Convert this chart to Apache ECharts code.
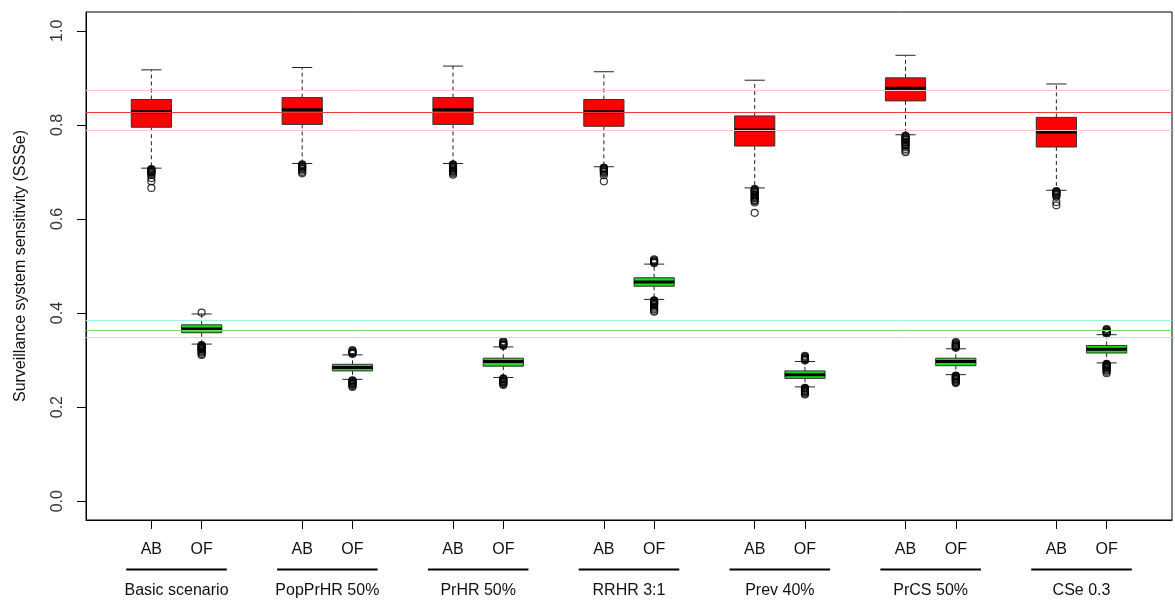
<!DOCTYPE html>
<html>
<head>
<meta charset="utf-8">
<script src="https://cdn.jsdelivr.net/npm/echarts@6/dist/echarts.min.js"></script>
<style>
    html, body { margin: 0; padding: 0; background: #fff; }
    #chart { width: 1175px; height: 601px; }
</style>
</head>
<body>
<div id="chart"></div>
<script>
// scenarios along the x axis, each one has an AB box and an OF box
const groups = ['Basic scenario', 'PopPrHR 50%', 'PrHR 50%', 'RRHR 3:1', 'Prev 40%', 'PrCS 50%', 'CSe 0.3']
const boxLabels = ['AB', 'OF']

// [lower whisker, Q1, median, Q3, upper whisker]
const abStats = [
    [0.708, 0.795, 0.828, 0.854, 0.917],
    [0.718, 0.801, 0.832, 0.858, 0.922],
    [0.718, 0.801, 0.832, 0.858, 0.925],
    [0.711, 0.797, 0.828, 0.854, 0.913],
    [0.666, 0.755, 0.789, 0.819, 0.895],
    [0.779, 0.851, 0.878, 0.900, 0.948],
    [0.661, 0.753, 0.785, 0.816, 0.887]
]
const ofStats = [
    [0.334, 0.358, 0.366, 0.375, 0.398],
    [0.259, 0.277, 0.284, 0.291, 0.311],
    [0.263, 0.287, 0.297, 0.304, 0.328],
    [0.429, 0.457, 0.466, 0.475, 0.504],
    [0.243, 0.261, 0.269, 0.277, 0.297],
    [0.269, 0.288, 0.297, 0.304, 0.324],
    [0.294, 0.315, 0.323, 0.331, 0.354]
]

// outlying points (dense runs show as black blobs)
const abOutliers = [
    [0.706, 0.705, 0.704, 0.702, 0.701, 0.700, 0.698, 0.696, 0.693, 0.687, 0.680, 0.666],
    [0.716, 0.714, 0.713, 0.711, 0.709, 0.707, 0.706, 0.703, 0.700, 0.697],
    [0.716, 0.715, 0.714, 0.712, 0.711, 0.709, 0.707, 0.705, 0.703, 0.702, 0.700, 0.697, 0.694],
    [0.709, 0.708, 0.707, 0.705, 0.703, 0.701, 0.700, 0.697, 0.693, 0.680],
    [0.664, 0.662, 0.661, 0.659, 0.657, 0.656, 0.653, 0.651, 0.650, 0.647, 0.645, 0.644, 0.641, 0.639, 0.638, 0.635, 0.613],
    [0.777, 0.775, 0.774, 0.771, 0.769, 0.768, 0.765, 0.763, 0.762, 0.759, 0.757, 0.756, 0.753, 0.749, 0.745, 0.742],
    [0.659, 0.658, 0.657, 0.655, 0.653, 0.652, 0.650, 0.647, 0.636, 0.629]
]
const ofOutliers = [
    [0.401, 0.332, 0.331, 0.330, 0.328, 0.327, 0.326, 0.324, 0.323, 0.322, 0.320, 0.318, 0.316, 0.313, 0.311],
    [0.313, 0.315, 0.316, 0.317, 0.319, 0.321, 0.257, 0.256, 0.255, 0.253, 0.251, 0.250, 0.249, 0.247, 0.245, 0.243],
    [0.330, 0.332, 0.333, 0.334, 0.336, 0.338, 0.340, 0.261, 0.260, 0.259, 0.257, 0.255, 0.254, 0.253, 0.251, 0.249, 0.247],
    [0.506, 0.508, 0.509, 0.510, 0.512, 0.514, 0.427, 0.426, 0.425, 0.423, 0.421, 0.420, 0.419, 0.417, 0.414, 0.411, 0.408, 0.405, 0.403],
    [0.299, 0.301, 0.302, 0.303, 0.305, 0.307, 0.309, 0.241, 0.240, 0.239, 0.237, 0.235, 0.234, 0.233, 0.231, 0.229, 0.227],
    [0.326, 0.328, 0.329, 0.330, 0.332, 0.334, 0.336, 0.338, 0.267, 0.266, 0.265, 0.263, 0.261, 0.260, 0.259, 0.257, 0.255, 0.253, 0.251],
    [0.356, 0.358, 0.359, 0.360, 0.362, 0.364, 0.366, 0.292, 0.291, 0.290, 0.288, 0.286, 0.285, 0.284, 0.282, 0.280, 0.278, 0.275, 0.272]
]

// horizontal reference lines: basic scenario mean and its band
const refValues = [0.874, 0.789, 0.828, 0.385, 0.348, 0.365]
const refColors = ['#ffc6cb', '#ffc6cb', '#ee3b3b', '#9cf5dc', '#9cf5dc', '#6ee35a']

const yTicks = [0, 0.2, 0.4, 0.6, 0.8, 1.0]

// x positions: AB at 1, 4, 7 ... OF next to it, a free slot between groups
const abPos = groups.map((g, i) => 3 * i + 1)
const ofPos = groups.map((g, i) => 3 * i + 2)
const boxPos = abPos.concat(ofPos).sort((a, b) => a - b)

const BOX_HALF = 0.4
const CAP_HALF = 0.2
const FONT = '"Liberation Sans", Arial, sans-serif'

const renderBox = fill => (params, api) => {
    let x = api.value(0)
    let lo = api.coord([x, api.value(1)])[1]
    let q1 = api.coord([x, api.value(2)])[1]
    let med = api.coord([x, api.value(3)])[1]
    let q3 = api.coord([x, api.value(4)])[1]
    let hi = api.coord([x, api.value(5)])[1]
    let cx = api.coord([x, 0])[0]
    let left = api.coord([x - BOX_HALF, 0])[0]
    let right = api.coord([x + BOX_HALF, 0])[0]
    let capL = api.coord([x - CAP_HALF, 0])[0]
    let capR = api.coord([x + CAP_HALF, 0])[0]
    let whisker = { stroke: '#222', lineWidth: 1, lineDash: [4, 3] }
    let cap = { stroke: '#222', lineWidth: 1 }
    return {
        type: 'group',
        children: [
            { type: 'line', shape: { x1: cx, y1: q1, x2: cx, y2: lo }, style: whisker },
            { type: 'line', shape: { x1: cx, y1: q3, x2: cx, y2: hi }, style: whisker },
            { type: 'line', shape: { x1: capL, y1: lo, x2: capR, y2: lo }, style: cap },
            { type: 'line', shape: { x1: capL, y1: hi, x2: capR, y2: hi }, style: cap },
            {
                type: 'rect',
                shape: { x: left, y: q3, width: right - left, height: q1 - q3 },
                style: { fill: fill, stroke: '#333', lineWidth: 1 }
            },
            { type: 'line', shape: { x1: left, y1: med, x2: right, y2: med }, style: { stroke: '#000', lineWidth: 3 } }
        ]
    }
}

const outlierData = (pos, list) => {
    let out = []
    list.forEach((vals, i) => vals.forEach(v => out.push([pos[i], v])))
    return out
}

let chart = echarts.init(document.getElementById('chart'))
let option = {
    animation: false,
    backgroundColor: '#fff',
    grid: {
        left: 86,
        right: 3,
        top: 12,
        bottom: 81,
        show: true,
        borderColor: '#000',
        borderWidth: 1,
        containLabel: false,
        outerBoundsMode: 'none'
    },
    xAxis: {
        type: 'value',
        min: -0.3,
        max: 21.3,
        splitLine: { show: false },
        axisLine: { show: true, onZero: false, lineStyle: { color: '#000', width: 1 } },
        axisTick: {
            show: true,
            customValues: boxPos,
            length: 9,
            lineStyle: { color: '#000', width: 1 }
        },
        axisLabel: {
            customValues: boxPos,
            margin: 22,
            color: '#111',
            fontSize: 16,
            fontFamily: FONT,
            formatter: v => (v % 3 === 1 ? boxLabels[0] : boxLabels[1])
        }
    },
    yAxis: {
        type: 'value',
        min: -0.04,
        max: 1.04,
        name: 'Surveillance system sensitivity (SSSe)',
        nameLocation: 'middle',
        nameRotate: 90,
        nameGap: 57,
        nameTextStyle: { color: '#111', fontSize: 16, fontFamily: FONT },
        splitLine: { show: false },
        axisLine: { show: true, onZero: false, lineStyle: { color: '#000', width: 1 } },
        axisTick: {
            show: true,
            customValues: yTicks,
            length: 9,
            lineStyle: { color: '#000', width: 1 }
        },
        axisLabel: {
            customValues: yTicks,
            rotate: 90,
            margin: 20,
            color: '#333',
            fontSize: 16,
            fontFamily: FONT,
            formatter: v => v.toFixed(1)
        }
    },
    series: [
        {
            name: 'AB',
            type: 'custom',
            z: 2,
            renderItem: renderBox('#ff0000'),
            data: abStats.map((s, i) => [abPos[i]].concat(s))
        },
        {
            name: 'OF',
            type: 'custom',
            z: 2,
            renderItem: renderBox('#14e014'),
            data: ofStats.map((s, i) => [ofPos[i]].concat(s))
        },
        {
            name: 'outliers',
            type: 'scatter',
            z: 3,
            symbol: 'circle',
            symbolSize: 7,
            silent: true,
            itemStyle: { color: 'rgba(0,0,0,0)', borderColor: '#000', borderWidth: 1.2 },
            data: outlierData(abPos, abOutliers).concat(outlierData(ofPos, ofOutliers))
        },
        {
            // reference lines across the whole plot, drawn over the boxes
            name: 'reference',
            type: 'custom',
            z: 5,
            silent: true,
            renderItem: (params, api) => {
                let cs = params.coordSys
                let y = Math.round(api.coord([0, api.value(0)])[1]) + 0.5
                return {
                    type: 'line',
                    shape: { x1: cs.x, y1: y, x2: cs.x + cs.width, y2: y },
                    style: { stroke: refColors[params.dataIndex], lineWidth: 1 }
                }
            },
            data: refValues.map(v => [v])
        },
        {
            // scenario names under the AB / OF labels, with an underline
            name: 'groups',
            type: 'custom',
            silent: true,
            clip: false,
            renderItem: (params, api) => {
                let bottom = params.coordSys.y + params.coordSys.height
                let x1 = api.coord([api.value(0) - 1, 0])[0]
                let x2 = api.coord([api.value(0) + 1, 0])[0]
                let cx = api.coord([api.value(0), 0])[0]
                return {
                    type: 'group',
                    children: [
                        {
                            type: 'line',
                            shape: { x1: x1, y1: bottom + 49.5, x2: x2, y2: bottom + 49.5 },
                            style: { stroke: '#000', lineWidth: 2 }
                        },
                        {
                            type: 'text',
                            x: cx,
                            y: bottom + 71,
                            style: {
                                text: groups[params.dataIndex],
                                fill: '#111',
                                font: '16px ' + FONT,
                                align: 'center',
                                verticalAlign: 'middle'
                            }
                        }
                    ]
                }
            },
            data: groups.map((g, i) => [(abPos[i] + ofPos[i]) / 2, 0.5])
        }
    ]
}
chart.setOption(option)
</script>
</body>
</html>
